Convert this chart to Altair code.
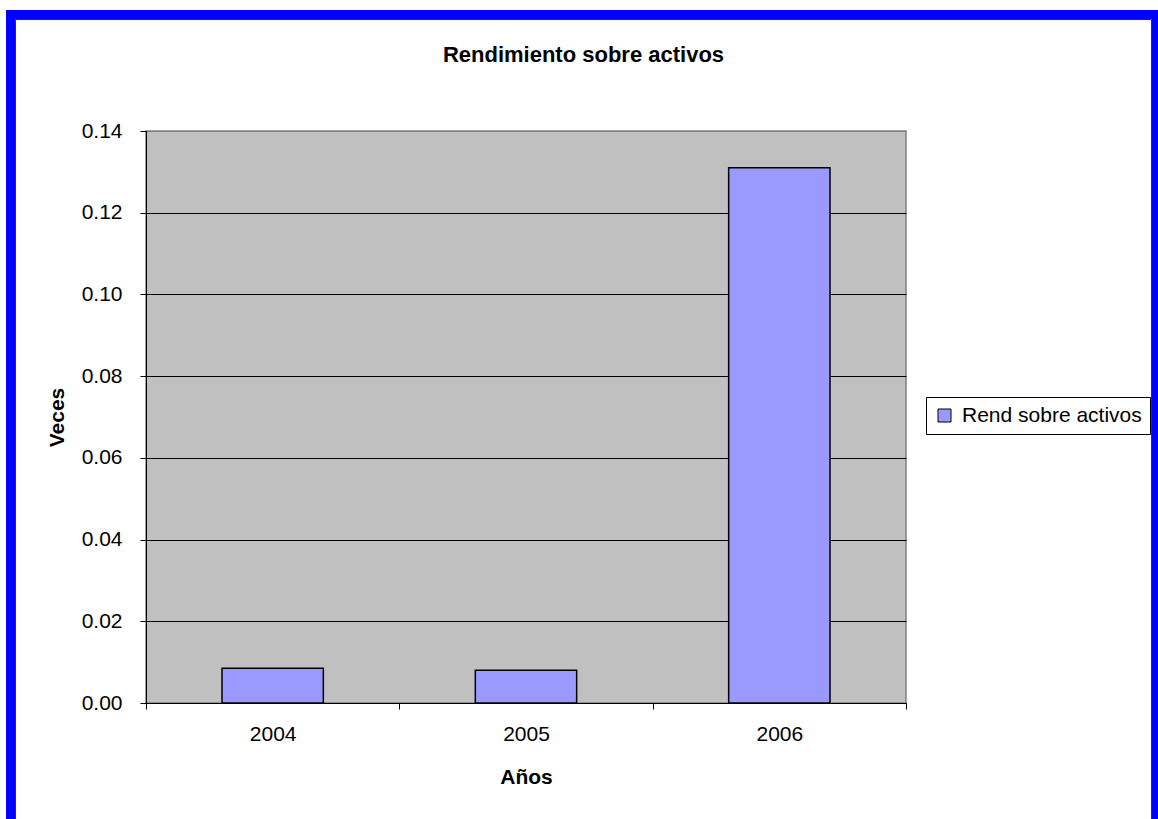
import altair as alt
import pandas as pd

# Return on assets by year
years = ["2004", "2005", "2006"]
values = [0.0085, 0.0080, 0.131]
series = ["Rend sobre activos"] * 3
y_ticks = [0.0, 0.02, 0.04, 0.06, 0.08, 0.10, 0.12, 0.14]

df = pd.DataFrame({"anio": years, "valor": values, "serie": series})

FONT = "Liberation Sans"
W, H = 760, 572
PAD_L, PAD_T = 146, 131

bars = alt.Chart(df).mark_bar(
    fill="#9999FF", stroke="black", strokeWidth=1.5,
    width=alt.RelativeBandSize(0.4),
).encode(
    x=alt.X(
        "anio:N",
        scale=alt.Scale(paddingInner=0, paddingOuter=0),
        axis=alt.Axis(
            title="Años",
            labelAngle=0,
            labelFontSize=21,
            labelColor="black",
            labelPadding=14,
            tickBand="extent",
            tickSize=6,
            tickColor="black",
            domainColor="black",
            grid=False,
            titleFontSize=21,
            titleFontWeight="bold",
            titleColor="black",
            titleY=80,
            titleBaseline="alphabetic",
        ),
    ),
    y=alt.Y(
        "valor:Q",
        scale=alt.Scale(domain=[0, 0.14], nice=False),
        axis=alt.Axis(
            title="Veces",
            values=y_ticks,
            format=".2f",
            labelFontSize=21,
            labelColor="black",
            labelPadding=18,
            tickSize=6,
            tickColor="black",
            domainColor="black",
            grid=True,
            gridColor=alt.condition(
                "datum.value > 0.139", alt.value("#808080"), alt.value("black")
            ),
            gridOpacity=1,
            titleFontSize=21,
            titleFontWeight="bold",
            titleColor="black",
            titleX=-83,
            titleY=H / 2,
            titleBaseline="alphabetic",
        ),
    ),
    color=alt.Color(
        "serie:N",
        scale=alt.Scale(range=["#9999FF"]),
        legend=alt.Legend(
            title=None,
            orient="none",
            legendX=926 - PAD_L,
            legendY=397 - PAD_T,
            symbolType="square",
            symbolSize=169,
            symbolStrokeColor="black",
            symbolStrokeWidth=1,
            labelFontSize=21,
            labelColor="black",
            labelLimit=400,
            labelOffset=7,
            padding=8,
            strokeColor="black",
            fillColor="white",
        ),
    ),
)

# Outer blue frame and the thin dark line inside it
frame_df = pd.DataFrame({"k": [0]})
frame = alt.Chart(frame_df).mark_rect(
    filled=False, stroke="#0000FF", strokeWidth=9
).encode(
    x=alt.value(10.5 - PAD_L),
    x2=alt.value(1156.5 - PAD_L),
    y=alt.value(14.5 - PAD_T),
    y2=alt.value(830 - PAD_T),
)
inner = alt.Chart(frame_df).mark_rect(
    filled=False, stroke="#333333", strokeWidth=1
).encode(
    x=alt.value(15.5 - PAD_L),
    x2=alt.value(1151.5 - PAD_L),
    y=alt.value(19.5 - PAD_T),
    y2=alt.value(830 - PAD_T),
)

chart = alt.layer(frame, inner, bars).properties(
    width=W,
    height=H,
    title=alt.Title(
        "Rendimiento sobre activos",
        fontSize=22,
        fontWeight="bold",
        color="black",
        frame="bounds",
        anchor="middle",
        baseline="alphabetic",
        offset=-74,
    ),
    autosize=alt.AutoSizeParams(type="none"),
    padding={"left": PAD_L, "top": PAD_T, "right": 1158 - PAD_L - W, "bottom": 819 - PAD_T - H},
).configure(
    font=FONT,
    background="white",
).configure_view(
    fill="#C0C0C0",
    stroke="#808080",
    strokeWidth=1.5,
)

chart.save("out.html", embed_options={"renderer": "svg", "actions": False})
